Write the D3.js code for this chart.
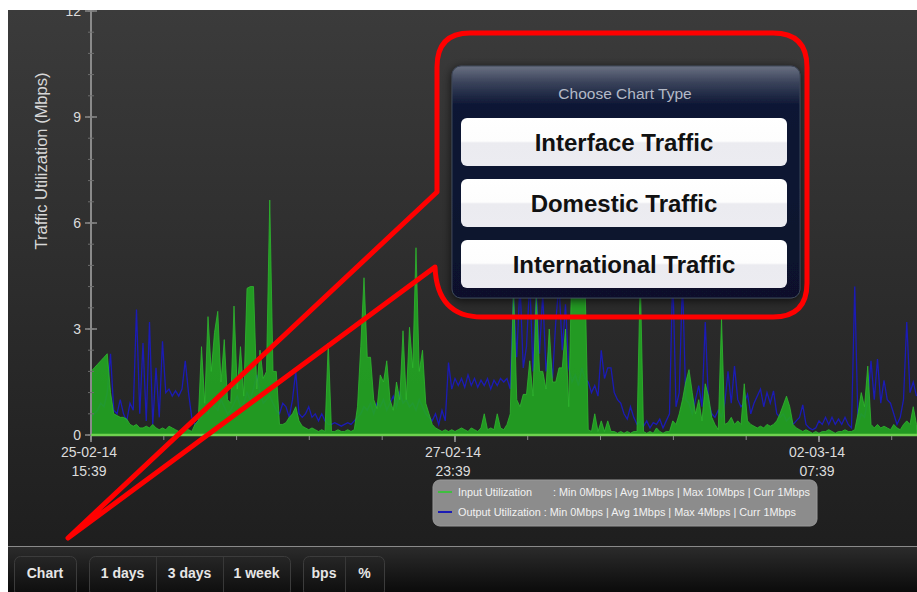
<!DOCTYPE html>
<html>
<head>
<meta charset="utf-8">
<script src="https://cdn.jsdelivr.net/npm/d3@7"></script>
<style>
  html, body { margin: 0; padding: 0; background: #fff; }
  svg { display: block; font-family: "Liberation Sans", Arial, Helvetica, sans-serif; }
</style>
</head>
<body>
<svg id="chart" width="917" height="592"></svg>
<script>
// data, one sample every 30 minutes
const startTime = new Date(2014, 1, 25, 15, 39);
const stepMinutes = 30;

const inputValues = [
  1.8,1.9,2.0,2.1,2.2,2.3,1.2,0.6,0.55,0.5,
  0.5,0.45,0.3,0.25,0.3,0.2,0.2,0.25,0.2,0.3,
  0.2,0.15,0.2,0.15,0.25,0.2,0.15,0.1,0.15,0.2,
  0.15,0.1,0.3,0.4,2.5,0.9,3.35,1.8,2.9,3.5,
  1.5,2.7,1.0,0.9,3.65,1.3,2.5,1.1,4.15,4.2,
  4.2,1.3,2.4,1.6,1.8,6.65,1.8,1.8,0.3,0.3,
  0.35,0.5,0.6,0.8,0.4,0.25,0.2,0.15,0.2,0.15,
  0.1,0.15,0.1,2.6,0.1,0.1,0.15,0.1,0.1,0.15,
  0.1,0.15,0.8,2.5,4.45,2.2,2.2,1.0,0.75,1.7,
  1.5,2.1,1.0,0.7,1.5,1.0,2.95,1.0,3.05,1.9,
  5.3,1.8,2.4,0.9,0.6,0.3,0.2,0.15,0.1,0.15,
  0.1,0.15,0.1,0.15,0.2,0.15,0.1,0.2,0.15,0.1,
  0.2,0.6,0.15,0.2,0.15,0.6,0.2,0.15,0.3,0.6,
  4.2,1.0,0.8,1.15,1.15,2.1,1.1,4.0,1.8,1.8,
  1.3,3.0,1.5,1.5,1.9,1.9,3.0,0.8,5.0,5.0,
  5.0,4.9,4.4,0.15,0.1,0.6,0.1,0.4,0.1,0.4,
  0.1,0.1,0.05,0.1,0.05,0.1,0.05,0.1,0.1,4.5,
  0.1,0.05,0.1,0.05,0.2,0.1,0.05,0.1,0.1,0.4,
  0.3,0.6,1.0,1.5,1.85,1.2,0.6,1.0,0.4,1.45,
  1.1,0.5,0.3,0.15,3.3,0.3,0.35,0.5,0.3,0.4,
  0.3,1.45,0.4,0.3,0.25,0.2,0.25,0.2,0.3,0.25,
  0.3,0.4,0.6,0.85,1.1,0.8,0.3,0.2,0.15,0.1,
  0.15,0.1,0.05,0.1,0.05,0.1,0.1,0.15,0.1,0.05,
  0.1,0.1,0.15,0.1,0.1,0.15,0.6,1.2,0.8,1.95,
  0.3,0.2,0.3,0.2,0.25,0.2,0.15,0.3,0.2,0.15,
  0.3,0.4,0.3,0.8,0.3
];

const outputValues = [
  0.5,0.6,0.7,0.9,0.8,1.2,2.3,0.7,0.6,1.0,
  0.6,0.4,0.9,0.7,3.55,0.6,2.6,0.4,3.2,0.3,
  1.9,0.5,2.65,1.2,1.3,1.1,1.25,1.1,1.3,2.1,
  1.2,0.5,0.3,0.4,0.5,0.7,0.6,0.9,0.8,0.7,
  1.0,0.8,0.6,0.7,0.9,1.1,0.8,0.9,1.2,1.0,
  1.3,1.7,1.2,0.9,1.0,1.1,0.9,0.7,0.6,0.9,
  0.8,0.5,1.0,1.8,0.6,0.5,0.6,0.8,0.5,0.6,
  0.4,0.6,0.4,0.3,0.3,0.35,0.3,0.25,0.3,0.35,
  0.3,0.4,0.5,0.6,0.8,0.7,0.9,0.6,0.9,0.8,
  1.0,0.7,0.9,1.1,0.8,1.2,0.9,1.0,0.8,0.9,
  0.7,1.0,0.8,0.6,0.5,0.4,0.6,0.3,0.7,0.4,
  2.05,1.3,1.6,1.4,1.6,1.35,1.7,1.4,1.6,1.35,
  1.55,1.4,1.6,1.3,1.55,1.4,1.6,1.5,1.6,1.3,
  4.0,2.2,4.3,1.9,2.5,4.4,1.8,4.2,2.3,4.0,
  1.8,2.5,1.6,3.2,4.3,2.4,3.7,1.9,1.5,1.7,
  1.4,1.9,1.6,1.5,1.2,1.4,1.1,2.4,1.6,1.9,
  1.9,1.2,1.0,0.9,0.6,0.45,0.8,0.5,0.3,0.4,
  0.25,0.4,0.2,0.35,0.3,0.45,0.2,0.4,0.6,4.6,
  0.8,1.2,4.4,1.0,0.9,0.6,1.0,1.4,0.8,3.2,
  0.9,0.6,0.5,0.7,0.5,0.9,1.8,0.9,1.95,1.0,
  0.8,0.9,1.15,0.6,0.9,1.1,1.3,0.8,1.2,0.9,
  1.25,0.6,0.5,0.6,0.4,0.5,0.3,0.4,0.5,0.85,
  0.3,0.2,0.15,0.2,0.4,0.3,0.5,0.3,0.5,0.3,
  0.45,0.3,0.5,0.3,0.2,4.2,0.3,0.6,0.5,1.0,
  2.1,1.0,2.15,0.9,1.55,1.0,0.9,0.6,0.3,0.5,
  1.0,3.2,1.2,1.5,1.1
];

const yTickValues = [0, 3, 6, 9, 12];
const xTickHours = [0, 56, 112];
const yTitle = "Traffic Utilization (Mbps)";

const legendLabels = [
  "Input Utilization       : Min 0Mbps | Avg 1Mbps | Max 10Mbps | Curr 1Mbps",
  "Output Utilization : Min 0Mbps | Avg 1Mbps | Max 4Mbps | Curr 1Mbps"
];
const legendColors = ["#3fbf3f", "#1b1bb5"];

const menuTitle = "Choose Chart Type";
const menuOptions = ["Interface Traffic", "Domestic Traffic", "International Traffic"];

const toolbarGroups = [["Chart"], ["1 days", "3 days", "1 week"], ["bps", "%"]];

// ---------------------------------------------------------------
const svg = d3.select("#chart");
const defs = svg.append("defs");

const bgGrad = defs.append("linearGradient").attr("id", "bg").attr("x1", 0).attr("y1", 0).attr("x2", 0).attr("y2", 1);
bgGrad.append("stop").attr("offset", "0%").attr("stop-color", "#3b3b3b");
bgGrad.append("stop").attr("offset", "100%").attr("stop-color", "#1c1c1c");

svg.append("rect").attr("x", 8).attr("y", 10).attr("width", 909).attr("height", 582).attr("fill", "url(#bg)");

const plotLeft = 91, plotRight = 917, plotTop = 10, plotBottom = 435;

const times = inputValues.map((_, i) => d3.timeMinute.offset(startTime, i * stepMinutes));
const inputData = inputValues.map((v, i) => ({ t: times[i], v }));
const outputData = outputValues.map((v, i) => ({ t: times[i], v }));

const x = d3.scaleTime()
  .domain([startTime, d3.timeHour.offset(startTime, 127)])
  .range([plotLeft, 916.5]);

const y = d3.scaleLinear()
  .domain([0, 12])
  .range([plotBottom, 11]);

defs.append("clipPath").attr("id", "plotClip")
  .append("rect").attr("x", plotLeft).attr("y", plotTop).attr("width", plotRight - plotLeft).attr("height", plotBottom - plotTop);

const plot = svg.append("g").attr("clip-path", "url(#plotClip)");

// output line goes under the input area
plot.append("path")
  .datum(outputData)
  .attr("fill", "none")
  .attr("stroke", "#1b1bb5")
  .attr("stroke-width", 1.3)
  .attr("d", d3.line().x(d => x(d.t)).y(d => y(d.v)));

plot.append("path")
  .datum(inputData)
  .attr("fill", "#22a622")
  .attr("fill-opacity", 0.9)
  .attr("stroke", "#2fb82f")
  .attr("stroke-width", 0.8)
  .attr("d", d3.area().x(d => x(d.t)).y0(y(0)).y1(d => y(d.v)));

// y axis
const yMinor = d3.range(0, 12.01, 0.6);
const yAxisG = svg.append("g").attr("clip-path", "url(#axisClip)");
defs.append("clipPath").attr("id", "axisClip")
  .append("rect").attr("x", 8).attr("y", 10).attr("width", 909).attr("height", 540);

yAxisG.append("line")
  .attr("x1", plotLeft).attr("x2", plotLeft)
  .attr("y1", y(12) - 2).attr("y2", plotBottom)
  .attr("stroke", "#8a8a8a").attr("stroke-width", 2);

yAxisG.selectAll(".yminor").data(yMinor).join("line")
  .attr("x1", plotLeft - 3).attr("x2", plotLeft + 3)
  .attr("y1", d => y(d)).attr("y2", d => y(d))
  .attr("stroke", "#6e6e6e").attr("stroke-width", 1);

yAxisG.selectAll(".ymajor").data(yTickValues).join("line")
  .attr("x1", plotLeft - 6).attr("x2", plotLeft + 6)
  .attr("y1", d => y(d)).attr("y2", d => y(d))
  .attr("stroke", "#8a8a8a").attr("stroke-width", 1.5);

yAxisG.selectAll(".ylabel").data(yTickValues).join("text")
  .attr("x", 81).attr("y", d => y(d) + 5)
  .attr("text-anchor", "end")
  .attr("font-size", 14)
  .attr("fill", "#dcdcdc")
  .text(d => d);

svg.append("text")
  .attr("transform", "translate(47,161) rotate(-90)")
  .attr("text-anchor", "middle")
  .attr("font-size", 16.5)
  .attr("fill", "#d8d8d8")
  .text(yTitle);

// x axis baseline
svg.append("line")
  .attr("x1", plotLeft).attr("x2", plotRight)
  .attr("y1", plotBottom).attr("y2", plotBottom)
  .attr("stroke", "#6fd24f").attr("stroke-width", 2.5);

const xMinor = d3.range(0, 127, 11.2).map(h => d3.timeMinute.offset(startTime, h * 60));
svg.selectAll(".xminor").data(xMinor).join("line")
  .attr("x1", d => x(d)).attr("x2", d => x(d))
  .attr("y1", plotBottom + 1).attr("y2", plotBottom + 5)
  .attr("stroke", "#8a8a8a").attr("stroke-width", 1);

const xMajor = xTickHours.map(h => d3.timeHour.offset(startTime, h));
const fmtDate = d3.timeFormat("%d-%m-%y");
const fmtTime = d3.timeFormat("%H:%M");

svg.selectAll(".xmajor").data(xMajor).join("line")
  .attr("x1", d => x(d)).attr("x2", d => x(d))
  .attr("y1", plotBottom + 1).attr("y2", plotBottom + 7)
  .attr("stroke", "#9a9a9a").attr("stroke-width", 1.5);

const xLab = svg.selectAll(".xlab").data(xMajor).join("text")
  .attr("text-anchor", "middle")
  .attr("font-size", 14)
  .attr("fill", "#dcdcdc");
xLab.append("tspan").attr("x", d => x(d) - 2).attr("y", 457).text(d => fmtDate(d));
xLab.append("tspan").attr("x", d => x(d) - 2).attr("y", 476).text(d => fmtTime(d));

// legend
const legend = svg.append("g");
legend.append("rect")
  .attr("x", 433).attr("y", 480).attr("width", 384).attr("height", 46).attr("rx", 7)
  .attr("fill", "#8c8c8c").attr("stroke", "#9a9a9a");
legendLabels.forEach((lab, i) => {
  const ly = 492 + i * 20;
  legend.append("line")
    .attr("x1", 438).attr("x2", 452).attr("y1", ly).attr("y2", ly)
    .attr("stroke", legendColors[i]).attr("stroke-width", 2);
  legend.append("text")
    .attr("x", 458).attr("y", ly + 3.5)
    .attr("font-size", 10.5)
    .attr("fill", "#f2f2f2")
    .attr("xml:space", "preserve")
    .attr("textLength", i === 0 ? 352 : 338)
    .attr("lengthAdjust", "spacingAndGlyphs")
    .text(lab);
});

// bottom toolbar
const tbGrad = defs.append("linearGradient").attr("id", "tb").attr("x1", 0).attr("y1", 0).attr("x2", 0).attr("y2", 1);
tbGrad.append("stop").attr("offset", "0%").attr("stop-color", "#2c2c2c");
tbGrad.append("stop").attr("offset", "100%").attr("stop-color", "#0b0b0b");
const btnGrad = defs.append("linearGradient").attr("id", "btn").attr("x1", 0).attr("y1", 0).attr("x2", 0).attr("y2", 1);
btnGrad.append("stop").attr("offset", "0%").attr("stop-color", "#262626");
btnGrad.append("stop").attr("offset", "100%").attr("stop-color", "#0c0c0c");

svg.append("rect").attr("x", 8).attr("y", 546).attr("width", 909).attr("height", 46).attr("fill", "url(#tb)");
svg.append("line").attr("x1", 8).attr("x2", 917).attr("y1", 546.5).attr("y2", 546.5).attr("stroke", "#8a8a8a");

const groupX = [14, 89, 303];
const cellW = [[62], [67, 67, 67], [42, 39]];
toolbarGroups.forEach((grp, gi) => {
  const gw = d3.sum(cellW[gi]);
  svg.append("rect")
    .attr("x", groupX[gi] + 0.5).attr("y", 556.5).attr("width", gw).attr("height", 40).attr("rx", 6)
    .attr("fill", "url(#btn)").attr("stroke", "#3c3c3c");
  let cx = groupX[gi];
  grp.forEach((lab, ci) => {
    if (ci > 0) {
      svg.append("line").attr("x1", cx + 0.5).attr("x2", cx + 0.5).attr("y1", 557).attr("y2", 592)
        .attr("stroke", "#383838");
    }
    svg.append("text")
      .attr("x", cx + cellW[gi][ci] / 2).attr("y", 578)
      .attr("text-anchor", "middle")
      .attr("font-size", 14).attr("font-weight", "bold")
      .attr("fill", "#e6e6e6")
      .text(lab);
    cx += cellW[gi][ci];
  });
});

// popup menu
const shadow = defs.append("filter").attr("id", "shadow").attr("x", "-20%").attr("y", "-20%").attr("width", "140%").attr("height", "140%");
shadow.append("feDropShadow").attr("dx", 0).attr("dy", 2).attr("stdDeviation", 5).attr("flood-color", "#000").attr("flood-opacity", 0.7);

const popGrad = defs.append("linearGradient").attr("id", "pop").attr("x1", 0).attr("y1", 0).attr("x2", 0).attr("y2", 1);
popGrad.append("stop").attr("offset", "0%").attr("stop-color", "#6a7182");
popGrad.append("stop").attr("offset", "7%").attr("stop-color", "#3a435b");
popGrad.append("stop").attr("offset", "17%").attr("stop-color", "#0c1634");
popGrad.append("stop").attr("offset", "100%").attr("stop-color", "#08112c");

const optGrad = defs.append("linearGradient").attr("id", "opt").attr("x1", 0).attr("y1", 0).attr("x2", 0).attr("y2", 1);
optGrad.append("stop").attr("offset", "0%").attr("stop-color", "#ffffff");
optGrad.append("stop").attr("offset", "48%").attr("stop-color", "#fdfdfd");
optGrad.append("stop").attr("offset", "52%").attr("stop-color", "#ebebf0");
optGrad.append("stop").attr("offset", "100%").attr("stop-color", "#ececf1");

svg.append("rect")
  .attr("x", 452).attr("y", 66).attr("width", 348).attr("height", 232).attr("rx", 9)
  .attr("fill", "url(#pop)").attr("stroke", "#3d4658").attr("stroke-width", 1)
  .attr("filter", "url(#shadow)");

svg.append("text")
  .attr("x", 625).attr("y", 99)
  .attr("text-anchor", "middle")
  .attr("font-size", 15.5)
  .attr("fill", "#b4b9c6")
  .text(menuTitle);

menuOptions.forEach((lab, i) => {
  const by = 118 + i * 61;
  svg.append("rect")
    .attr("x", 461).attr("y", by).attr("width", 326).attr("height", 48).attr("rx", 6)
    .attr("fill", "url(#opt)");
  svg.append("text")
    .attr("x", 624).attr("y", by + 32.5)
    .attr("text-anchor", "middle")
    .attr("font-size", 24).attr("font-weight", "bold")
    .attr("fill", "#111")
    .text(lab);
});

// red callout
svg.append("path")
  .attr("d", "M470,33 L773,33 Q807,33 807,67 L807,283 Q807,317 773,317 L482,317 Q437,317 435,267 L68,538 L437,192 L437,67 Q437,33 470,33 Z")
  .attr("fill", "none")
  .attr("stroke", "#ff0000")
  .attr("stroke-width", 5)
  .attr("stroke-linejoin", "round");

// white frame strips of the screenshot
svg.append("rect").attr("x", 0).attr("y", 0).attr("width", 917).attr("height", 10).attr("fill", "#fff");
svg.append("rect").attr("x", 0).attr("y", 0).attr("width", 8).attr("height", 592).attr("fill", "#fff");
</script>
</body>
</html>
